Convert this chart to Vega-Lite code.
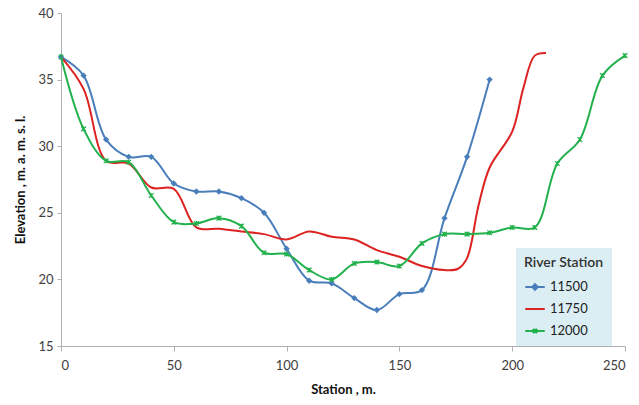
{
  "$schema": "https://vega.github.io/schema/vega-lite/v6.json",
  "width": 564,
  "height": 333,
  "autosize": "none",
  "padding": {"left": 61, "top": 13, "right": 14, "bottom": 59},
  "background": "white",
  "config": {
    "view": {"stroke": null},
    "font": "Lato",
    "axis": {"grid": false, "domainColor": "#b0b0b0", "tickColor": "#b0b0b0", "labelColor": "#404040", "labelFontSize": 13, "titleFontSize": 13, "titleFontWeight": "bold", "titleColor": "#111111", "labelFont": "Lato", "titleFont": "Lato"}
  },
  "data": {"values": [
    {"s": "11500", "x": 0, "y": 36.7}, {"s": "11500", "x": 10, "y": 35.3}, {"s": "11500", "x": 20, "y": 30.5}, {"s": "11500", "x": 30, "y": 29.2}, {"s": "11500", "x": 40, "y": 29.2}, {"s": "11500", "x": 50, "y": 27.2}, {"s": "11500", "x": 60, "y": 26.6}, {"s": "11500", "x": 70, "y": 26.6}, {"s": "11500", "x": 80, "y": 26.1}, {"s": "11500", "x": 90, "y": 25.0}, {"s": "11500", "x": 100, "y": 22.3}, {"s": "11500", "x": 110, "y": 19.9}, {"s": "11500", "x": 120, "y": 19.7}, {"s": "11500", "x": 130, "y": 18.6}, {"s": "11500", "x": 140, "y": 17.7}, {"s": "11500", "x": 150, "y": 18.9}, {"s": "11500", "x": 160, "y": 19.2}, {"s": "11500", "x": 170, "y": 24.6}, {"s": "11500", "x": 180, "y": 29.2}, {"s": "11500", "x": 190, "y": 35.0},
    {"s": "11750", "x": 0, "y": 36.7}, {"s": "11750", "x": 10, "y": 34.3}, {"s": "11750", "x": 20, "y": 28.9}, {"s": "11750", "x": 30, "y": 28.7}, {"s": "11750", "x": 40, "y": 26.9}, {"s": "11750", "x": 50, "y": 26.8}, {"s": "11750", "x": 60, "y": 23.9}, {"s": "11750", "x": 70, "y": 23.8}, {"s": "11750", "x": 80, "y": 23.6}, {"s": "11750", "x": 90, "y": 23.4}, {"s": "11750", "x": 100, "y": 23.0}, {"s": "11750", "x": 110, "y": 23.6}, {"s": "11750", "x": 120, "y": 23.2}, {"s": "11750", "x": 130, "y": 23.0}, {"s": "11750", "x": 140, "y": 22.2}, {"s": "11750", "x": 150, "y": 21.7}, {"s": "11750", "x": 160, "y": 21.0}, {"s": "11750", "x": 170, "y": 20.7}, {"s": "11750", "x": 176, "y": 20.8}, {"s": "11750", "x": 180, "y": 21.6}, {"s": "11750", "x": 185, "y": 25.5}, {"s": "11750", "x": 190, "y": 28.4}, {"s": "11750", "x": 200, "y": 31.1}, {"s": "11750", "x": 205, "y": 34.4}, {"s": "11750", "x": 210, "y": 36.8}, {"s": "11750", "x": 215, "y": 37.0},
    {"s": "12000", "x": 0, "y": 36.7}, {"s": "12000", "x": 10, "y": 31.3}, {"s": "12000", "x": 20, "y": 28.9}, {"s": "12000", "x": 30, "y": 28.8}, {"s": "12000", "x": 40, "y": 26.3}, {"s": "12000", "x": 50, "y": 24.3}, {"s": "12000", "x": 60, "y": 24.2}, {"s": "12000", "x": 70, "y": 24.6}, {"s": "12000", "x": 80, "y": 24.0}, {"s": "12000", "x": 90, "y": 22.0}, {"s": "12000", "x": 100, "y": 21.9}, {"s": "12000", "x": 110, "y": 20.7}, {"s": "12000", "x": 120, "y": 20.0}, {"s": "12000", "x": 130, "y": 21.2}, {"s": "12000", "x": 140, "y": 21.3}, {"s": "12000", "x": 150, "y": 21.0}, {"s": "12000", "x": 160, "y": 22.7}, {"s": "12000", "x": 170, "y": 23.4}, {"s": "12000", "x": 180, "y": 23.4}, {"s": "12000", "x": 190, "y": 23.5}, {"s": "12000", "x": 200, "y": 23.9}, {"s": "12000", "x": 210, "y": 23.9}, {"s": "12000", "x": 220, "y": 28.7}, {"s": "12000", "x": 230, "y": 30.5}, {"s": "12000", "x": 240, "y": 35.3}, {"s": "12000", "x": 250, "y": 36.8}
  ]},
  "encoding": {
    "x": {"field": "x", "type": "quantitative", "scale": {"domain": [0, 250], "nice": false}, "axis": {"values": [0, 50, 100, 150, 200, 250], "title": "Station , m.", "tickSize": 5, "labelPadding": 8, "titlePadding": 11}},
    "y": {"field": "y", "type": "quantitative", "scale": {"domain": [15, 40], "nice": false, "zero": false}, "axis": {"values": [15, 20, 25, 30, 35, 40], "title": "Elevation , m. a. m. s. l.", "tickSize": 4, "labelPadding": 4, "titlePadding": 10}}
  },
  "layer": [
    {
      "mark": {"type": "line", "interpolate": "catmull-rom", "strokeWidth": 2},
      "encoding": {
        "color": {"field": "s", "type": "nominal", "title": "River Station", "scale": {"domain": ["11500", "11750", "12000"], "range": ["#4a7ebb", "#dd2222", "#22b14c"]}}
      }
    },
    {
      "transform": [{"filter": "datum.s === '11500'"}],
      "mark": {"type": "point", "shape": "diamond", "filled": true, "size": 40, "opacity": 1, "color": "#4a7ebb"}
    },
    {
      "transform": [{"filter": "datum.s === '12000'"}],
      "mark": {"type": "point", "shape": "M-1,-1L1,1M-1,1L1,-1M0,-1L0,1", "filled": false, "size": 22, "strokeWidth": 1.2, "opacity": 1, "color": "#22b14c"}
    },
    {
      "transform": [{"filter": "datum.x === 0"}],
      "mark": {"type": "point", "filled": false, "opacity": 0},
      "encoding": {
        "color": {"field": "s", "type": "nominal", "title": "River Station"},
        "shape": {"field": "s", "type": "nominal", "title": "River Station", "scale": {"domain": ["11500", "11750", "12000"], "range": ["M-1,0L1,0M0,-0.28L0.28,0L0,0.28L-0.28,0Z", "M-1,0L1,0", "M-1,0L1,0M-0.22,-0.22L0.22,0.22M-0.22,0.22L0.22,-0.22M0,-0.22L0,0.22"]},
          "legend": {"orient": "none", "legendX": 455, "legendY": 235, "fillColor": "#dbeef4", "padding": 8, "titleFontSize": 14, "titleFontWeight": 600, "titleColor": "#333333", "labelFontSize": 13, "labelColor": "#222222", "symbolSize": 380, "symbolStrokeWidth": 2, "symbolOpacity": 1, "rowPadding": 4, "offset": 0, "titlePadding": 6, "labelOffset": 4}}
      }
    }
  ]
}
